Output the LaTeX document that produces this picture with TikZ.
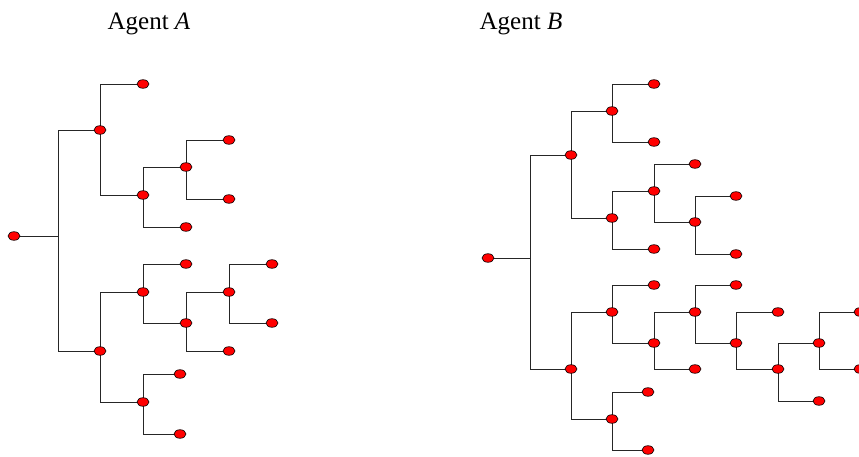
\documentclass[tikz,border=0pt]{standalone}
\usepackage{fontspec}
\setmainfont{Liberation Serif}
\usetikzlibrary{shapes.geometric}
\begin{document}
\begin{tikzpicture}[x=1pt,y=-1pt,
  dot/.style={ellipse,draw=black,fill=red,line width=0.6pt,minimum width=12pt,minimum height=8.6pt,inner sep=0pt},
  edge/.style={draw=black!85,line width=0.8pt},
  title/.style={anchor=base,font=\fontsize{25}{30}\selectfont,inner sep=0pt}]
\useasboundingbox (0,0) rectangle (859,457);
\node[title] (tA) at (149,30) {Agent \textit{A}};
\node[title] (tB) at (521,30) {Agent \textit{B}};
% ---- Agent A ----
\coordinate (aJ) at (58,236);
\coordinate (a1) at (100,130);
\coordinate (a11) at (143,84);
\coordinate (a12) at (143,195);
\coordinate (a121) at (186,167);
\coordinate (a1211) at (229,140);
\coordinate (a1212) at (229,199);
\coordinate (a122) at (186,227);
\coordinate (a2) at (100,351);
\coordinate (a21) at (143,292);
\coordinate (a211) at (186,264);
\coordinate (a212) at (186,323);
\coordinate (a2121) at (229,292);
\coordinate (a21211) at (272,264);
\coordinate (a21212) at (272,323);
\coordinate (a2122) at (229,351);
\coordinate (a22) at (143,402);
\coordinate (a221) at (180,374);
\coordinate (a222) at (180,434);
\coordinate (a0) at (14,236);
\path[edge] (a0) -- (aJ) (aJ) |- (a1) (aJ) |- (a2)
  (a1) |- (a11) (a1) |- (a12)
  (a12) |- (a121) (a12) |- (a122)
  (a121) |- (a1211) (a121) |- (a1212)
  (a2) |- (a21) (a2) |- (a22)
  (a21) |- (a211) (a21) |- (a212)
  (a212) |- (a2121) (a212) |- (a2122)
  (a2121) |- (a21211) (a2121) |- (a21212)
  (a22) |- (a221) (a22) |- (a222);
\foreach \n in {a0,a1,a11,a12,a121,a1211,a1212,a122,a2,a21,a211,a212,a2121,a21211,a21212,a2122,a22,a221,a222}
  \node[dot] (n\n) at (\n) {};
% ---- Agent B ----
\coordinate (b0) at (488,258);
\coordinate (bJ) at (530,258);
\coordinate (b1) at (571,155);
\coordinate (b11) at (612,111);
\coordinate (b111) at (654,84);
\coordinate (b112) at (654,142);
\coordinate (b12) at (612,218);
\coordinate (b121) at (654,191);
\coordinate (b1211) at (695,164);
\coordinate (b1212) at (695,222);
\coordinate (b12121) at (736,196);
\coordinate (b12122) at (736,254);
\coordinate (b122) at (654,249);
\coordinate (b2) at (571,369);
\coordinate (b21) at (612,312);
\coordinate (b211) at (654,285);
\coordinate (b212) at (654,343);
\coordinate (b2121) at (695,312);
\coordinate (b21211) at (736,285);
\coordinate (b21212) at (736,343);
\coordinate (b212121) at (778,312);
\coordinate (b212122) at (778,369);
\coordinate (b2121221) at (819,343);
\coordinate (b21212211) at (860,312);
\coordinate (b21212212) at (860,369);
\coordinate (b2121222) at (819,401);
\coordinate (b2122) at (695,369);
\coordinate (b22) at (612,419);
\coordinate (b221) at (648,392);
\coordinate (b222) at (648,450);
\path[edge] (b0) -- (bJ) (bJ) |- (b1) (bJ) |- (b2)
  (b1) |- (b11) (b1) |- (b12)
  (b11) |- (b111) (b11) |- (b112)
  (b12) |- (b121) (b12) |- (b122)
  (b121) |- (b1211) (b121) |- (b1212)
  (b1212) |- (b12121) (b1212) |- (b12122)
  (b2) |- (b21) (b2) |- (b22)
  (b21) |- (b211) (b21) |- (b212)
  (b212) |- (b2121) (b212) |- (b2122)
  (b2121) |- (b21211) (b2121) |- (b21212)
  (b21212) |- (b212121) (b21212) |- (b212122)
  (b212122) |- (b2121221) (b212122) |- (b2121222)
  (b2121221) |- (b21212211) (b2121221) |- (b21212212)
  (b22) |- (b221) (b22) |- (b222);
\foreach \n in {b0,b1,b11,b111,b112,b12,b121,b1211,b1212,b12121,b12122,b122,b2,b21,b211,b212,b2121,b21211,b21212,b212121,b212122,b2121221,b21212211,b21212212,b2121222,b2122,b22,b221,b222}
  \node[dot] (n\n) at (\n) {};
\end{tikzpicture}
\end{document}
